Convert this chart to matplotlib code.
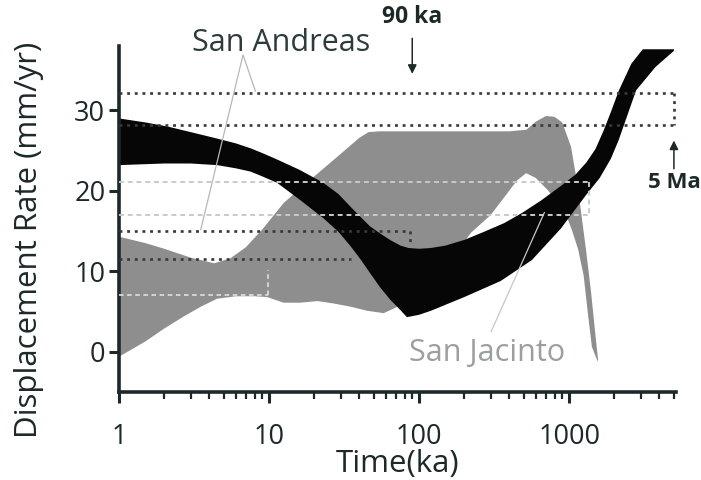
import matplotlib
matplotlib.use("Agg")
import matplotlib.pyplot as plt

plt.rcParams['font.family'] = ['Open Sans', 'DejaVu Sans']

# San Andreas band (black), upper and lower edges
sa_top_t = [1, 1.5, 2.1, 3, 4.5, 6, 7.5, 9, 11.3, 16, 23, 29, 35, 41, 47, 55, 64, 75, 85, 100,
            120, 150, 200, 270, 370, 490, 650, 880, 1100, 1300, 1500, 1700, 1900, 2150, 2600,
            3100, 5000]
sa_top_rate = [29.0, 28.5, 28.0, 27.3, 26.5, 25.9, 25.3, 24.7, 23.9, 22.6, 21.0, 19.6, 18.0, 16.7,
               15.6, 14.7, 13.9, 13.2, 12.9, 12.8, 12.9, 13.2, 13.9, 14.9, 16.0, 17.3, 18.8, 20.6,
               22.0, 23.5, 25.2, 27.5, 29.8, 32.5, 35.8, 37.6, 37.6]
sa_bot_t = [1, 2, 3, 4.5, 6, 7.5, 9, 11.3, 16, 23, 29, 35, 41, 47, 55, 64, 74, 83, 100, 120,
            200, 350, 565, 880, 1300, 1600, 1900, 2140, 2800, 3770, 5000]
sa_bot_rate = [23.2, 23.4, 23.4, 23.2, 22.8, 22.4, 21.8, 21.0, 18.9, 16.6, 14.9, 13.1, 11.4, 9.8,
               8.0, 6.5, 5.3, 4.3, 4.6, 5.1, 6.8, 8.8, 11.4, 15.3, 19.5, 21.6, 24.0, 26.3, 32.5,
               35.4, 37.4]

# San Jacinto band (grey)
sj_top_t = [1, 1.5, 2, 3, 4.3, 5.5, 7, 9, 12.5, 20, 30, 40, 46, 55, 100, 200, 400, 520, 600,
            700, 800, 900, 1030, 1120, 1200, 1300, 1400, 1500, 1560]
sj_top_rate = [14.3, 13.5, 12.8, 11.7, 11.0, 11.6, 13.0, 15.2, 18.5, 21.8, 24.6, 26.6, 27.3, 27.4,
               27.4, 27.4, 27.4, 27.6, 28.6, 29.3, 29.2, 28.5, 25.5, 21.5, 17.5, 12.5, 7.5, 2.0,
               -1.0]
sj_bot_t = [1, 1.5, 2, 2.7, 3.5, 4.5, 6, 8, 9.7, 12.5, 16, 21, 27, 35, 45, 58, 70, 100, 150,
            222, 300, 380, 450, 517, 600, 720, 850, 980, 1050, 1150, 1250, 1330, 1420, 1550]
sj_bot_rate = [-0.6, 1.3, 2.9, 4.4, 5.6, 6.6, 6.9, 6.9, 6.8, 6.1, 6.1, 6.3, 6.0, 5.6, 5.1, 4.8,
               5.5, 7.5, 10.5, 14.8, 17.0, 19.5, 21.3, 22.2, 21.6, 20.1, 18.5, 16.5, 15.0, 12.7,
               9.5, 5.0, 0.6, -1.2]

# rate ranges (dotted = San Andreas, dashed = San Jacinto)
sa_levels = [32.2, 28.2]
sa_box_end = 5000
sa_short_levels = [15.0, 11.5]
sa_short_ends = [87, 35]
sj_levels = [21.1, 17.0]
sj_box_end = 1360
sj_low_level = 7.1
sj_low_end = 9.8

ink = '#1d2929'

fig = plt.figure(figsize=(7.01, 4.8), dpi=100)
ax = fig.add_axes([0.170, 0.1833, 0.795, 0.7208])
ax.set_xscale('log')
ax.set_xlim(1, 5200)
ax.set_ylim(-5, 38)

ax.fill(sj_top_t + sj_bot_t[::-1], sj_top_rate + sj_bot_rate[::-1],
        color='#8e8e8e', lw=0, zorder=1)
ax.fill(sa_top_t + sa_bot_t[::-1], sa_top_rate + sa_bot_rate[::-1],
        color='#060606', lw=0, zorder=2, clip_on=False)

dot = dict(color='#383838', lw=1.9, linestyle=(0, (1.1, 1.8)), zorder=3)
for lev in sa_levels:
    ax.plot([1, sa_box_end], [lev, lev], **dot)
ax.plot([sa_box_end, sa_box_end], sa_levels, **dot)
for lev, end in zip(sa_short_levels, sa_short_ends):
    ax.plot([1, end], [lev, lev], **dot)
ax.plot([sa_short_ends[0]] * 2, [sa_short_levels[0], 13.5], **dot)

dash = dict(color='#c3cbcb', lw=1.4, linestyle=(0, (2.5, 2.0)), zorder=3)
for lev in sj_levels:
    ax.plot([1, sj_box_end], [lev, lev], **dash)
ax.plot([sj_box_end, sj_box_end], sj_levels, **dash)
light = dict(color='#d6dcdc', lw=1.3, linestyle=(0, (2.5, 2.0)), zorder=3)
ax.plot([1, sj_low_end], [sj_low_level, sj_low_level], **light)
ax.plot([sj_low_end, sj_low_end], [sj_low_level, 10.2], **light)

# label pointers
ax.plot([3.5, 6.7, 8.1], [15.2, 36.9, 32.4], color='#b4b8b8', lw=0.9, zorder=4)
ax.plot([302, 684], [2.5, 17.3], color='#c4c8c8', lw=0.9, zorder=4)

ax.text(12.0, 38.4, 'San Andreas', fontsize=22, color='#2e3b3b', ha='center', va='center')
ax.text(284, -0.1, 'San Jacinto', fontsize=22, color='#9c9f9f', ha='center', va='center', zorder=5)

ax.text(90, 41.6, '90 ka', fontsize=16.5, fontweight='bold', color=ink, ha='center', va='center')
ax.annotate('', xy=(90, 34.2), xytext=(90, 39.3), annotation_clip=False,
            arrowprops=dict(arrowstyle='-|>', color=ink, lw=1.1, mutation_scale=13))
ax.text(5000, 21.0, '5 Ma', fontsize=16, fontweight='bold', color=ink, ha='center', va='center')
ax.annotate('', xy=(5000, 26.6), xytext=(5000, 22.4), annotation_clip=False,
            arrowprops=dict(arrowstyle='-|>', color=ink, lw=1.1, mutation_scale=13))

for s in ['top', 'right']:
    ax.spines[s].set_visible(False)
for s in ['left', 'bottom']:
    ax.spines[s].set_linewidth(2.6)
    ax.spines[s].set_color(ink)

ax.set_yticks([0, 10, 20, 30])
ax.set_xticks([1, 10, 100, 1000])
ax.set_xticklabels(['1', '10', '100', '1000'])
ax.tick_params(axis='y', length=7, width=2.2, color=ink, labelsize=19.5, labelcolor=ink, pad=3)
ax.tick_params(axis='x', which='major', length=8, width=2.2, color=ink, labelsize=19.5,
               labelcolor=ink, pad=14)
ax.tick_params(axis='x', which='minor', length=5, width=1.6, color=ink)

ax.set_xlabel('Time(ka)', fontsize=22.5, color=ink)
ax.set_ylabel('Displacement Rate (mm/yr)', fontsize=22.5, color=ink)
ax.xaxis.set_label_coords(0.5, -0.165)
ax.yaxis.set_label_coords(-0.135, 0.44)

fig.savefig('out.png', dpi=100)
